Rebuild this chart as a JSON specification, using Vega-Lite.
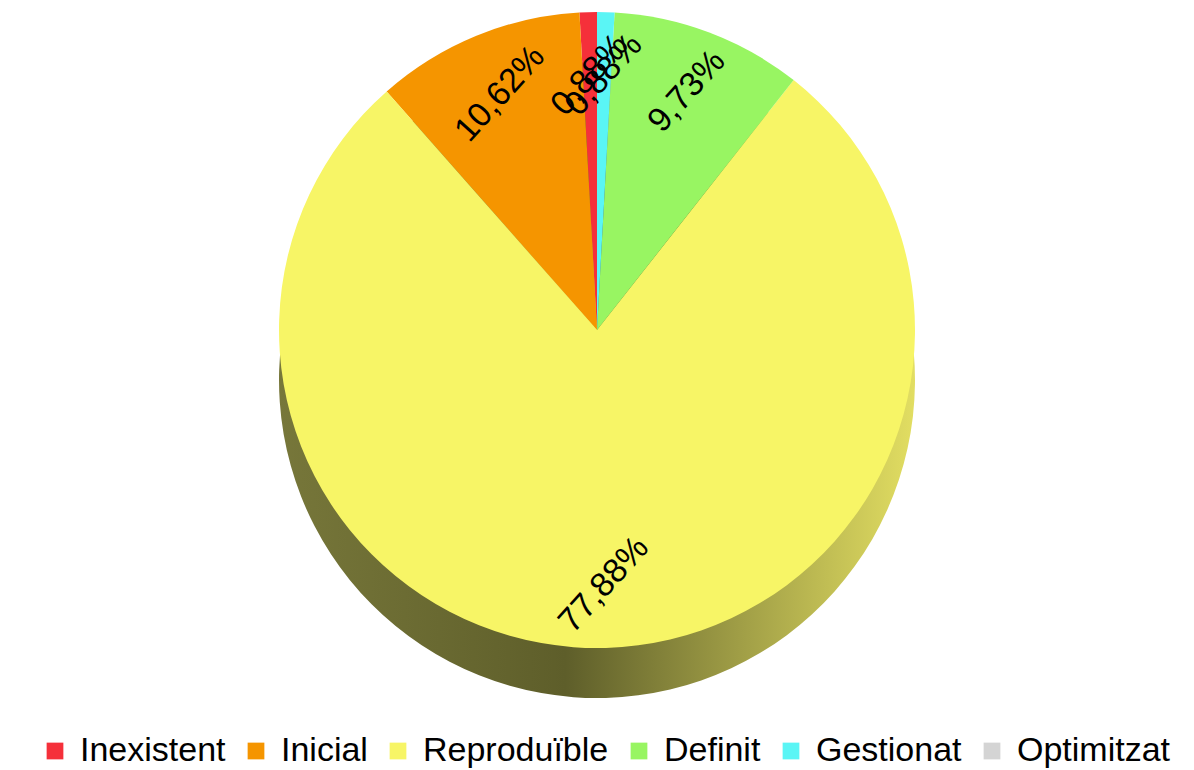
{
  "$schema": "https://vega.github.io/schema/vega-lite/v6.json",
  "width": 1194,
  "height": 660,
  "autosize": {"type": "pad"},
  "padding": 0,
  "background": "white",
  "data": {
    "values": [
      {"nivell": "Inexistent", "idx": 1, "valor": 0.0088},
      {"nivell": "Inicial", "idx": 2, "valor": 0.1062},
      {"nivell": "Reproduïble", "idx": 3, "valor": 0.7788},
      {"nivell": "Definit", "idx": 4, "valor": 0.0973},
      {"nivell": "Gestionat", "idx": 5, "valor": 0.0088},
      {"nivell": "Optimitzat", "idx": 6, "valor": 0}
    ]
  },
  "encoding": {
    "theta": {"field": "valor", "type": "quantitative", "stack": true},
    "order": {"field": "idx", "type": "quantitative", "sort": "descending"}
  },
  "layer": [
    {
      "mark": {
        "type": "arc",
        "outerRadius": 318,
        "yOffset": 50,
        "fill": {
          "gradient": "linear",
          "x1": 0, "y1": 0, "x2": 1, "y2": 0,
          "stops": [
            {"offset": 0, "color": "#77773a"},
            {"offset": 0.45, "color": "#5e5e2a"},
            {"offset": 1, "color": "#e2de62"}
          ]
        }
      }
    },
    {
      "mark": {"type": "arc", "outerRadius": 318},
      "encoding": {
        "color": {
          "field": "nivell",
          "type": "nominal",
          "sort": ["Inexistent", "Inicial", "Reproduïble", "Definit", "Gestionat", "Optimitzat"],
          "scale": {
            "domain": ["Inexistent", "Inicial", "Reproduïble", "Definit", "Gestionat", "Optimitzat"],
            "range": ["#f5303a", "#f59500", "#f7f566", "#98f562", "#5af5f5", "#d4d4d4"]
          },
          "legend": {
            "title": null,
            "orient": "none",
            "legendX": 38,
            "legendY": 734,
            "direction": "horizontal",
            "symbolType": "square",
            "symbolSize": 280,
            "symbolStrokeWidth": 0,
            "labelFontSize": 34,
            "labelFont": "Liberation Sans",
            "labelColor": "black",
            "labelLimit": 0,
            "columnPadding": 13,
            "labelOffset": 8,
            "padding": 0
          }
        }
      }
    },
    {
      "transform": [{"filter": "datum.valor > 0"}],
      "mark": {
        "type": "text",
        "radius": 255,
        "angle": 312,
        "fontSize": 34,
        "font": "Liberation Sans",
        "color": "black"
      },
      "encoding": {
        "text": {"field": "valor", "type": "quantitative", "format": ".2%"}
      }
    }
  ],
  "config": {
    "view": {"stroke": null},
    "locale": {
      "number": {"decimal": ",", "thousands": ".", "grouping": [3], "currency": ["", " €"]}
    }
  }
}
